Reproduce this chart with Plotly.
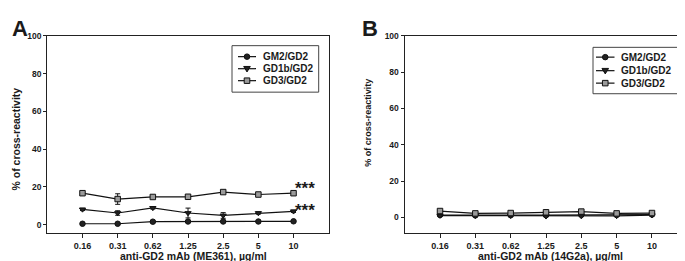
import plotly.graph_objects as go

doses = ["0.16", "0.31", "0.62", "1.25", "2.5", "5", "10"]

# Panel A: ME361
a_gm2 = [0.4, 0.4, 1.5, 1.6, 1.6, 1.6, 1.7]
a_gm2_err = [0.4, 0.4, 0.5, 0.5, 0.5, 0.5, 0.5]
a_gd1b = [8.0, 6.1, 8.8, 6.1, 4.8, 6.1, 7.0]
a_gd1b_err = [0.6, 1.2, 0.6, 2.6, 1.5, 0.6, 0.6]
a_gd3 = [16.6, 13.5, 14.6, 14.7, 17.2, 15.9, 16.6]
a_gd3_err = [0.6, 2.8, 0.6, 0.6, 0.6, 0.6, 0.6]

# Panel B: 14G2a
b_gm2 = [1.3, 1.1, 1.2, 1.3, 1.5, 1.3, 1.6]
b_gm2_err = [0.3, 0.3, 0.3, 0.3, 0.3, 0.3, 0.3]
b_gd1b = [1.0, 0.9, 0.9, 0.6, 0.7, 0.8, 1.2]
b_gd1b_err = [0.3, 0.3, 0.3, 0.3, 0.3, 0.3, 0.3]
b_gd3 = [3.5, 2.2, 2.4, 2.8, 3.2, 2.2, 2.4]
b_gd3_err = [0.5, 0.4, 0.4, 0.5, 0.9, 0.4, 0.4]

series_names = ["GM2/GD2", "GD1b/GD2", "GD3/GD2"]
symbols = ["circle", "triangle-down", "square"]
fills = ["#222222", "#222222", "#9a9a9a"]

yticks = [0, 20, 40, 60, 80, 100]

FONT = "Liberation Sans"
TXT = "#1a1a1a"
W, H = 685, 261

fig = go.Figure()

def add_panel(vals, errs, xa, ya):
    for name, v, e, sym, fc in zip(series_names, vals, errs, symbols, fills):
        fig.add_trace(go.Scatter(
            x=doses, y=v, name=name, mode="lines+markers",
            xaxis=xa, yaxis=ya, showlegend=False,
            line=dict(color="#111111", width=1.2),
            marker=dict(symbol=sym, size=5.5, color=fc,
                        line=dict(color="#111111", width=1)),
            error_y=dict(type="data", array=e, visible=True,
                         color="#111111", thickness=1, width=2.5),
        ))

add_panel([a_gm2, a_gd1b, a_gd3], [a_gm2_err, a_gd1b_err, a_gd3_err], "x", "y")
add_panel([b_gm2, b_gd1b, b_gd3], [b_gm2_err, b_gd1b_err, b_gd3_err], "x2", "y2")

xcommon = dict(type="category", categoryorder="array", categoryarray=doses,
               range=[-1, 7], showgrid=False, zeroline=False,
               showline=True, linecolor="#222222", linewidth=1.3, mirror=True,
               ticks="outside", ticklen=4, tickcolor="#222222",
               tickfont=dict(family=FONT, size=9, color=TXT, weight="bold"))
ycommon = dict(tickvals=yticks, showgrid=False, zeroline=False,
               showline=True, linecolor="#222222", linewidth=1.3, mirror=True,
               ticks="outside", ticklen=3, tickcolor="#222222",
               tickfont=dict(family=FONT, size=8.5, color=TXT, weight="bold"))

fig.update_layout(
    width=W, height=H,
    margin=dict(l=0, r=0, t=0, b=0),
    paper_bgcolor="white", plot_bgcolor="white",
    xaxis=dict(domain=[0.0574, 0.4682], anchor="y", **xcommon),
    yaxis=dict(domain=[0.1406, 0.9107], anchor="x", range=[-4.5, 100], **ycommon),
    xaxis2=dict(domain=[0.5791, 0.9917], anchor="y2", **xcommon),
    yaxis2=dict(domain=[0.1406, 0.9107], anchor="x2", range=[-8.6, 100], **ycommon),
    showlegend=False,
)

def px(x):
    return x / W

def py(y):
    return 1 - y / H

annots = [
    dict(text="A", x=px(2), y=py(1), xanchor="left", yanchor="top",
         font=dict(family=FONT, size=22, color=TXT, weight="bold")),
    dict(text="B", x=px(352), y=py(1), xanchor="left", yanchor="top",
         font=dict(family=FONT, size=22, color=TXT, weight="bold")),
    dict(text="% of cross-reactivity", x=px(8), y=py(129), textangle=-90,
         xanchor="center", yanchor="middle",
         font=dict(family=FONT, size=10.5, color=TXT, weight="bold")),
    dict(text="% of cross-reactivity", x=px(360), y=py(112), textangle=-90,
         xanchor="center", yanchor="middle",
         font=dict(family=FONT, size=9, color=TXT, weight="bold")),
    dict(text="anti-GD2 mAb (ME361), µg/ml", x=px(185), y=py(248),
         xanchor="center", yanchor="middle",
         font=dict(family=FONT, size=10.5, color=TXT, weight="bold")),
    dict(text="anti-GD2 mAb (14G2a), µg/ml", x=px(542), y=py(248),
         xanchor="center", yanchor="middle",
         font=dict(family=FONT, size=10.5, color=TXT, weight="bold")),
]
for yv, ys in ((a_gd3[-1], 4.5), (a_gd1b[-1], 0.5)):
    annots.append(dict(text="***", x=len(doses) - 1, y=yv, xref="x", yref="y",
                       xanchor="left", yanchor="middle", xshift=-1, yshift=ys,
                       font=dict(family=FONT, size=17, color=TXT, weight="bold")))

shapes = []

def legend_box(x0, y0, x1, y1, rows, lx0, lx1, tx, fsize):
    shapes.append(dict(type="rect", xref="paper", yref="paper",
                       x0=px(x0), x1=px(x1), y0=py(y0), y1=py(y1),
                       line=dict(color="#444444", width=1), fillcolor="white"))
    mx = (lx0 + lx1) / 2
    r = 2.8
    for name, sym, fc, ry in zip(series_names, symbols, fills, rows):
        shapes.append(dict(type="line", xref="paper", yref="paper",
                           x0=px(lx0), x1=px(lx1), y0=py(ry), y1=py(ry),
                           line=dict(color="#111111", width=1.2)))
        mk = dict(xref="paper", yref="paper", fillcolor=fc,
                  line=dict(color="#111111", width=1))
        if sym == "circle":
            shapes.append(dict(type="circle", x0=px(mx - r), x1=px(mx + r),
                               y0=py(ry - r), y1=py(ry + r), **mk))
        elif sym == "square":
            shapes.append(dict(type="rect", x0=px(mx - r), x1=px(mx + r),
                               y0=py(ry - r), y1=py(ry + r), **mk))
        else:
            path = "M {:.5f},{:.5f} L {:.5f},{:.5f} L {:.5f},{:.5f} Z".format(
                px(mx - r - 0.5), py(ry - r + 0.5), px(mx + r + 0.5), py(ry - r + 0.5),
                px(mx), py(ry + r + 0.5))
            shapes.append(dict(type="path", path=path, **mk))
        annots.append(dict(text=name, x=px(tx), y=py(ry), xanchor="left",
                           yanchor="middle",
                           font=dict(family=FONT, size=fsize, color=TXT, weight="bold")))

legend_box(224, 33.3, 310.7, 80.7, [44.5, 56.8, 69], 230, 248, 252.5, 10)
legend_box(585, 35, 675, 82.3, [45, 58.8, 71.5], 588, 606.5, 611, 10)

for a in annots:
    a.setdefault("xref", "paper")
    a.setdefault("yref", "paper")
    a.setdefault("showarrow", False)
    fig.add_annotation(**a)

fig.update_layout(shapes=shapes)

fig.write_html("out.html")
